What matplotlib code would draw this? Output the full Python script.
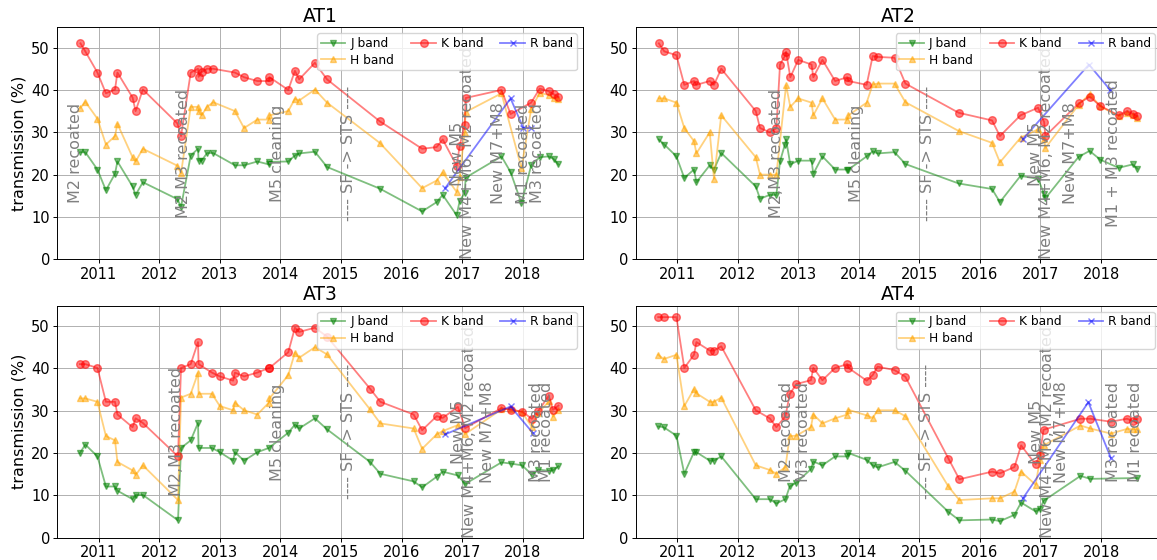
import numpy as np
import matplotlib
matplotlib.use('Agg')
import matplotlib.pyplot as plt

nan = np.nan

# ----------------------
# Data (decimal years, transmission in %)
# ----------------------

at1_dates = [2010.70, 2010.78, 2010.98, 2011.12, 2011.27, 2011.31, 2011.56, 2011.61, 2011.73,
             2012.30, 2012.36, 2012.52, 2012.64, 2012.65, 2012.70, 2012.79, 2012.89, 2013.25,
             2013.40, 2013.62, 2013.81, 2013.82, 2014.13, 2014.24, 2014.31, 2014.57, 2014.77,
             2015.64, 2016.34, 2016.58, 2016.68, 2016.91, 2016.96, 2017.04, 2017.06, 2017.65,
             2017.80, 2017.98, 2018.14, 2018.28, 2018.43, 2018.51, 2018.59]
at1_j = [25.3, 25.3, 21.2, 16.3, 20.2, 23.1, 17.2, 15.2, 18.2,
         14.2, 12.4, 24.5, 26.1, 23.3, 23.3, 25.1, 25.1, 22.2,
         22.2, 23.1, 22.4, 23.0, 23.1, 24.5, 25.0, 25.4, 21.8,
         16.7, 11.3, 13.5, 15.2, 10.4, 13.8, 15.6, 19.3, 24.3,
         20.6, 13.2, 22.2, 24.1, 24.3, 23.7, 22.4]
at1_h = [35.8, 37.2, 33.2, 27.1, 29.1, 32.0, 24.1, 23.1, 26.1,
         22.1, 20.3, 36.0, 36.0, 35.0, 34.0, 36.0, 37.1, 35.0,
         31.0, 33.0, 33.0, 34.0, 35.0, 37.9, 37.5, 40.1, 37.0,
         27.5, 16.8, 18.6, 20.5, 15.9, 19.5, 29.9, 34.8, 39.2,
         nan, 21.5, 35.5, 39.3, 38.8, 38.0, 37.9]
at1_k = [51.0, 49.1, 44.1, 39.2, 40.1, 44.1, 38.2, 35.0, 40.1,
         32.1, 29.1, 44.1, 45.0, 43.1, 44.2, 45.0, 45.0, 44.1,
         43.0, 42.1, 42.1, 43.0, 40.0, 44.5, 42.5, 46.4, 42.5,
         32.6, 26.1, 26.5, 28.3, 22.1, 26.8, 31.6, 38.1, 40.0,
         34.3, nan, 37.0, 40.3, 39.7, 39.0, 38.3]
at1_r_dates = [2016.72, 2017.80, 2018.01, 2018.13]
at1_r = [16.8, 38.0, 31.0, 31.0]

at2_dates = [2010.70, 2010.79, 2010.99, 2011.12, 2011.28, 2011.32, 2011.54, 2011.61, 2011.73,
             2012.30, 2012.37, 2012.53, 2012.64, 2012.70, 2012.78, 2012.80, 2012.87, 2013.00,
             2013.22, 2013.25, 2013.40, 2013.61, 2013.81, 2013.83, 2014.13, 2014.23, 2014.31,
             2014.59, 2014.77, 2015.65, 2016.20, 2016.33, 2016.67, 2016.96, 2017.06, 2017.08,
             2017.63, 2017.81, 2017.99, 2018.29, 2018.43, 2018.52, 2018.60]
at2_j = [28.3, 27.1, 24.3, 19.2, 21.2, 18.2, 22.2, 21.2, 25.1,
         17.2, 14.3, 15.2, 15.2, 23.1, 27.1, 28.3, 22.4, 23.3,
         23.3, 20.2, 24.3, 21.2, 21.2, 21.2, 24.3, 25.5, 25.0,
         25.3, 22.5, 17.9, 16.6, 13.5, 19.7, 19.0, 15.4, 14.4,
         24.2, 25.6, 23.5, 21.6, nan, 22.4, 21.4]
at2_h = [38.0, 38.0, 37.0, 31.0, 27.9, 25.0, 30.0, 19.0, 34.0,
         24.1, 20.0, 20.0, 20.0, nan, nan, 41.1, 36.0, 38.0,
         37.0, 34.0, 38.0, 33.0, 33.0, 34.0, 37.0, 41.3, 41.5,
         41.5, 37.1, 30.3, 27.5, 22.9, 28.7, 30.7, 28.5, 26.3,
         36.5, 39.0, 36.1, 33.8, 34.6, 34.0, 33.3]
at2_k = [51.0, 49.1, 48.2, 41.2, 42.1, 41.2, 42.1, 41.2, 45.0,
         35.0, 31.0, 30.0, 31.0, 46.0, 48.0, 49.0, 43.0, 47.1,
         46.0, 43.0, 47.1, 42.1, 43.0, 42.1, 41.2, 48.0, 47.8,
         47.6, 41.5, 34.6, 32.8, 29.1, 34.0, 35.8, 32.4, 29.1,
         36.8, 38.4, 36.2, 34.0, 35.0, 34.4, 33.8]
at2_r_dates = [2016.71, 2017.80, 2018.15]
at2_r = [28.4, 46.0, 40.0]

at3_dates = [2010.69, 2010.78, 2010.98, 2011.12, 2011.27, 2011.31, 2011.56, 2011.61, 2011.73,
             2012.31, 2012.36, 2012.52, 2012.64, 2012.65, 2012.87, 2013.00, 2013.22, 2013.25,
             2013.40, 2013.62, 2013.81, 2013.82, 2014.13, 2014.24, 2014.31, 2014.57, 2014.77,
             2015.48, 2015.65, 2016.20, 2016.34, 2016.58, 2016.68, 2016.93, 2017.05, 2017.65,
             2017.81, 2017.99, 2018.15, 2018.26, 2018.43, 2018.50, 2018.59]
at3_j = [20.0, 22.0, 19.2, 12.1, 12.1, 11.1, 9.1, 10.1, 10.1,
         4.1, 21.2, 23.0, 27.1, 21.2, 21.2, 20.2, 18.2, 20.2,
         18.2, 20.2, 21.2, nan, 24.8, 26.7, 25.8, 28.2, 25.6,
         17.9, 15.1, 13.3, 11.9, 14.4, 15.6, 14.7, 12.7, 17.8,
         17.5, 17.1, 14.9, 16.1, 15.8, 15.9, 16.9]
at3_h = [32.9, 32.9, 32.1, 24.0, 23.0, 17.9, 15.9, 14.8, 17.1,
         8.9, 33.1, 34.0, 38.9, 34.0, 34.0, 31.1, 30.1, 31.9,
         30.1, 29.1, 31.9, 32.9, 38.4, 43.7, 42.5, 45.0, 43.3,
         30.3, 27.0, 25.8, 21.0, 24.4, 25.2, 26.6, 24.5, 30.3,
         30.4, 29.6, 26.2, 29.5, 32.2, 28.6, 30.2]
at3_k = [41.0, 41.0, 40.1, 32.1, 32.1, 29.1, 26.1, 28.2, 27.1,
         19.2, 40.1, 41.0, 46.2, 41.0, 39.0, 38.1, 37.1, 39.0,
         38.1, 39.0, 40.1, 40.1, 43.8, 49.6, 48.6, 49.6, 47.5,
         35.2, 32.1, 29.1, 25.4, 28.7, 28.3, 30.9, 25.9, 30.6,
         30.2, 29.8, 28.1, 30.0, 33.5, 30.2, 31.2]
at3_r_dates = [2016.72, 2017.80, 2018.17]
at3_r = [24.4, 31.0, 24.7]

at4_dates = [2010.69, 2010.78, 2010.99, 2011.12, 2011.28, 2011.32, 2011.54, 2011.61, 2011.73,
             2012.30, 2012.53, 2012.64, 2012.79, 2012.86, 2012.97, 2013.21, 2013.25, 2013.40,
             2013.61, 2013.81, 2013.83, 2014.13, 2014.23, 2014.31, 2014.59, 2014.77, 2015.48,
             2015.66, 2016.20, 2016.33, 2016.57, 2016.68, 2016.92, 2016.99, 2017.05, 2017.66,
             2017.82, 2018.16, 2018.43, 2018.53, 2018.60]
at4_j = [26.3, 26.1, 24.1, 15.1, 20.2, 20.2, 18.2, 18.2, 19.2,
         9.1, 9.1, 8.1, 9.1, 12.1, 13.0, 16.2, 18.0, 17.1,
         19.2, 19.2, 20.0, 18.4, 17.1, 16.6, 17.9, 15.8, 6.1,
         4.1, 4.3, 3.9, 5.4, 8.3, 6.2, 6.8, 8.7, 14.6,
         13.9, nan, nan, nan, 14.1]
at4_h = [43.2, 42.2, 43.2, 31.1, 35.1, 34.1, 32.1, 32.1, 33.1,
         17.1, 16.0, 15.1, 16.7, 24.0, 24.1, 26.1, 29.1, 27.0,
         28.2, 29.1, 30.2, 28.9, 28.3, 30.1, 30.1, 28.7, 12.1,
         8.9, 9.3, 9.3, 10.9, 15.6, 12.5, 18.4, 21.8, 26.5,
         25.8, 24.6, 25.7, 25.6, 25.6]
at4_k = [52.1, 52.1, 52.1, 40.1, 43.2, 46.2, 44.2, 44.2, 45.2,
         30.1, 28.2, 26.1, 28.7, 33.9, 36.3, 37.2, 40.1, 37.2,
         40.1, 41.0, 40.1, 37.1, 38.4, 40.4, 39.6, 38.0, 18.7,
         13.8, 15.6, 15.2, 16.7, 21.8, 17.3, 19.6, 25.5, 28.1,
         28.1, 27.4, 28.1, 27.5, 28.1]
at4_r_dates = [2016.71, 2017.79, 2018.16]
at4_r = [9.3, 32.0, 18.9]

# telescope events (date, text)
at1_events = [(2010.61, "M2 recoated"), (2012.40, "M2,M3 recoated"), (2013.96, "M5 cleaning"),
              (2015.12, "---- SF -> STS ----"), (2016.93, "New M5"),
              (2017.09, "New M4+M6, M2 recoated"), (2017.60, "New M7+M8"),
              (2018.02, "M1 recoated"), (2018.24, "M3 recoated")]
at2_events = [(2012.65, "M2,M3 recoated"), (2013.97, "M5 cleaning"),
              (2015.13, "---- SF -> STS ----"), (2016.92, "New M5"),
              (2017.10, "New M4+M6, M2 recoated"), (2017.49, "New M7+M8"),
              (2018.20, "M1 + M3 recoated")]
at3_events = [(2012.28, "M2,M3 recoated"), (2013.96, "M5 cleaning"),
              (2015.12, "---- SF -> STS ----"), (2016.94, "New M5"),
              (2017.12, "New M4+M6, M2 recoated"), (2017.42, "New M7+M8"),
              (2018.22, "M3 recoated"), (2018.40, "M1 recoated")]
at4_events = [(2012.81, "M2 recoated"), (2013.08, "M3 recoated"),
              (2015.12, "---- SF -> STS ----"), (2016.94, "New M5"),
              (2017.12, "New M4+M6, M2 recoated"), (2017.34, "New M7+M8"),
              (2018.21, "M3 recoated"), (2018.57, "M1 recoated")]

years = list(range(2011, 2019))
yticks = [0, 10, 20, 30, 40, 50]


def plot_band(ax, dates, vals, color, marker, ms, label):
    d = np.array(dates, dtype=float)
    v = np.array(vals, dtype=float)
    ok = ~np.isnan(v)
    ax.plot(d[ok], v[ok], color=color, marker=marker, markersize=ms,
            linewidth=1.3, alpha=0.5, label=label)


def plot_panel(ax, title, dates, j, h, k, r_dates, r, events, ylabel=False):
    plot_band(ax, dates, j, 'green', 'v', 5, 'J band')
    plot_band(ax, dates, h, 'orange', '^', 5, 'H band')
    plot_band(ax, dates, k, 'red', 'o', 5.5, 'K band')
    plot_band(ax, r_dates, r, 'blue', 'x', 4.5, 'R band')
    for x, txt in events:
        ax.text(x, 25, txt, rotation=90, ha='center', va='center',
                color='gray', fontsize=11.5)
    ax.set_xlim(2010.317, 2018.99)
    ax.set_ylim(0, 54.8)
    ax.set_xticks(years)
    ax.set_xticklabels([str(y) for y in years])
    ax.set_yticks(yticks)
    ax.tick_params(labelsize=10.5, length=2.8, pad=2.5, width=0.7)
    ax.grid(True, linewidth=0.7)
    for sp in ax.spines.values():
        sp.set_linewidth(0.7)
    ax.set_title(title, fontsize=13.5, pad=4)
    if ylabel:
        ax.set_ylabel('transmission (%)', fontsize=11.5, labelpad=3)
    ax.legend(loc='upper right', ncol=3, fontsize=8.8, handletextpad=0.4,
              columnspacing=1.4, labelspacing=0.3, borderpad=0.3)


fig = plt.figure(figsize=(11.57, 5.6), dpi=100)
w, hgt = 0.4541, 0.4143
ax1 = fig.add_axes([0.0495, 0.537, w, hgt])
ax2 = fig.add_axes([0.5494, 0.537, w, hgt])
ax3 = fig.add_axes([0.0495, 0.0398, w, hgt])
ax4 = fig.add_axes([0.5494, 0.0398, w, hgt])

plot_panel(ax1, 'AT1', at1_dates, at1_j, at1_h, at1_k, at1_r_dates, at1_r, at1_events, ylabel=True)
plot_panel(ax2, 'AT2', at2_dates, at2_j, at2_h, at2_k, at2_r_dates, at2_r, at2_events)
plot_panel(ax3, 'AT3', at3_dates, at3_j, at3_h, at3_k, at3_r_dates, at3_r, at3_events, ylabel=True)
plot_panel(ax4, 'AT4', at4_dates, at4_j, at4_h, at4_k, at4_r_dates, at4_r, at4_events)

fig.savefig('out.png', dpi=100)
